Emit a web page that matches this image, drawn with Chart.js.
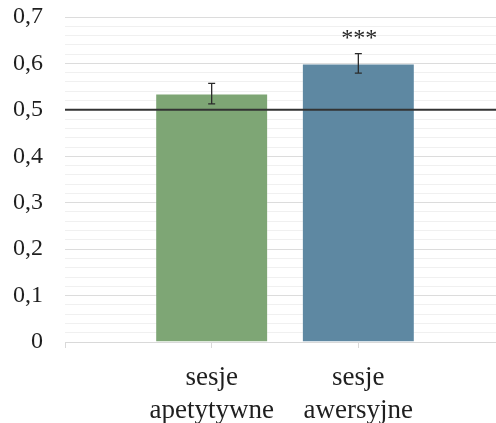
<!DOCTYPE html>
<html>
<head>
<meta charset="utf-8">
<script src="https://cdn.jsdelivr.net/npm/chart.js@4/dist/chart.umd.min.js"></script>
<style>
  html, body { margin: 0; padding: 0; background: #fff; overflow: hidden; }
  #wrap { width: 505px; height: 423px; }
</style>
</head>
<body>
<div id="wrap"><canvas id="c" width="505" height="423"></canvas></div>
<script>
// Categories (empty slots at both ends keep the bars centred on their ticks)
const categories = ['', ['sesje', 'apetytywne'], ['sesje', 'awersyjne'], ''];
// Mean proportion per session type
const means = [null, 0.535, 0.600, null];
// Standard error of each mean
const errors = [null, 0.022, 0.021, null];
// Significance markers printed above the bars
const significance = ['', '', '***', ''];
// Chance level drawn as a horizontal reference line
const chanceLevel = [0.5, 0.5, 0.5, 0.5];
// Bar fills
const barColors = ['#7ea675', '#7ea675', '#5e88a2', '#5e88a2'];

const serif = "'Liberation Serif', 'Times New Roman', serif";

const isMajor = v => Math.abs(v * 10 - Math.round(v * 10)) < 1e-6;

// Error bars and significance stars, positioned from the y scale
const errorBars = {
  id: 'errorBars',
  afterDatasetsDraw(chart) {
    const { ctx, scales: { y } } = chart;
    const meta = chart.getDatasetMeta(0);
    ctx.save();
    ctx.strokeStyle = '#2b2b2b';
    ctx.lineWidth = 1.3;
    meta.data.forEach((bar, i) => {
      const v = means[i], e = errors[i];
      if (v == null) return;
      const x = bar.x;
      const yt = y.getPixelForValue(v + e);
      const yb = y.getPixelForValue(v - e);
      ctx.beginPath();
      ctx.moveTo(x, yt); ctx.lineTo(x, yb);
      ctx.moveTo(x - 3.5, yt); ctx.lineTo(x + 3.5, yt);
      ctx.moveTo(x - 3.5, yb); ctx.lineTo(x + 3.5, yb);
      ctx.stroke();
      if (significance[i]) {
        ctx.fillStyle = '#262626';
        ctx.font = '24px ' + serif;
        ctx.textAlign = 'center';
        ctx.textBaseline = 'alphabetic';
        ctx.fillText(significance[i], x + 1, yt - 9);
      }
    });
    ctx.restore();
  }
};

new Chart(document.getElementById('c'), {
  type: 'bar',
  data: {
    labels: categories,
    datasets: [
      {
        type: 'bar',
        data: means,
        backgroundColor: barColors,
        borderColor: 'rgba(255,255,255,0.25)',
        borderWidth: 1,
        categoryPercentage: 1,
        barPercentage: 0.77,
        order: 2
      },
      {
        type: 'line',
        data: chanceLevel,
        borderColor: '#333333',
        borderWidth: 2,
        pointRadius: 0,
        tension: 0,
        order: 1
      }
    ]
  },
  options: {
    responsive: false,
    animation: false,
    layout: { padding: { left: 13, right: 0, top: 17, bottom: 0 } },
    plugins: { legend: { display: false }, tooltip: { enabled: false } },
    scales: {
      x: {
        offset: false,
        afterFit: s => { s.height = 81; s.paddingLeft = 0; s.paddingRight = 0; },
        grid: {
          offset: false,
          drawOnChartArea: false,
          drawTicks: true,
          tickLength: 6,
          color: '#d9d9d9'
        },
        border: { color: '#d9d9d9' },
        ticks: {
          autoSkip: false,
          maxRotation: 0,
          padding: 14,
          color: '#1f1f1f',
          font: { family: serif, size: 27, lineHeight: 1.2 }
        }
      },
      y: {
        min: 0,
        max: 0.7,
        afterFit: s => { s.width = 52; s.paddingTop = 0; s.paddingBottom = 0; },
        grid: {
          drawTicks: false,
          color: ctx => isMajor(ctx.tick.value) ? '#dcdcdc' : '#f0f0f0'
        },
        border: { display: false },
        ticks: {
          stepSize: 0.02,
          autoSkip: false,
          padding: 22,
          color: '#1f1f1f',
          font: { family: serif, size: 24 },
          callback: v => isMajor(v) ? String(Math.round(v * 10) / 10).replace('.', ',') : ''
        }
      }
    }
  },
  plugins: [errorBars]
});
</script>
</body>
</html>
